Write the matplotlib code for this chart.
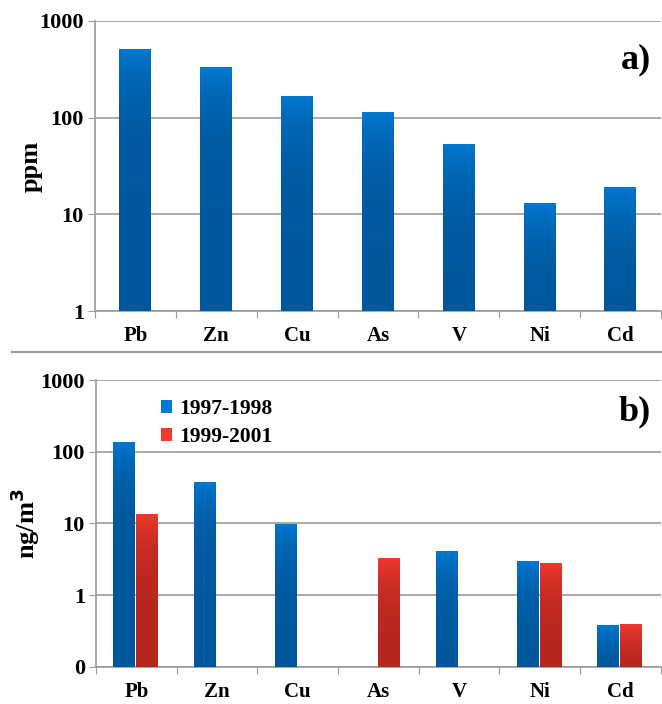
import numpy as np
import matplotlib.pyplot as plt
from matplotlib.patches import Patch
from matplotlib.lines import Line2D

elements = ["Pb", "Zn", "Cu", "As", "V", "Ni", "Cd"]
soil_ppm = [525, 336, 169, 115, 54, 13.3, 19.4]
air_9798 = [141, 39, 10, 0, 4.2, 3.08, 0.39]
air_9901 = [14, 0, 0, 3.34, 0, 2.9, 0.40]
y_ticks_a = [1, 10, 100, 1000]
y_ticks_b = [0.1, 1, 10, 100, 1000]
y_labels_b = ["0", "1", "10", "100", "1000"]

BLUE = ("#0079d2", "#00579c")
RED = ("#f23a2f", "#b5261f")
GRID = "#9a9a9a"

plt.rcParams["font.family"] = "Liberation Serif"
plt.rcParams["font.weight"] = "bold"


def gradient_bars(ax, bars, colors):
    grad = np.linspace(0, 1, 256).reshape(-1, 1)
    cmap = plt.matplotlib.colors.LinearSegmentedColormap.from_list("g", [colors[1], colors[0]])
    for b in bars:
        h = b.get_height()
        if h <= 0:
            b.set_visible(False)
            continue
        x0 = b.get_x()
        x1 = x0 + b.get_width()
        y0 = ax.get_ylim()[0]
        im = ax.imshow(grad, extent=(x0, x1, y0, h), origin="lower", aspect="auto",
                       cmap=cmap, zorder=3, interpolation="bilinear")
        im.set_clip_path(b)
        b.set_facecolor("none")
        b.set_edgecolor("none")


def style_axes(ax, ticks, labels):
    ax.set_yscale("log")
    ax.set_ylim(ticks[0], ticks[-1])
    ax.set_yticks(ticks)
    ax.set_yticklabels(labels)
    ax.minorticks_off()
    ax.yaxis.grid(True, color=GRID, linewidth=1.2)
    ax.set_axisbelow(True)
    ax.set_xlim(0, len(elements))
    ax.set_xticks(np.arange(len(elements) + 1))
    ax.set_xticklabels([])
    ax.set_xticks(np.arange(len(elements)) + 0.5, minor=True)
    ax.set_xticklabels(elements, minor=True)
    ax.tick_params(axis="x", which="major", length=5, color=GRID, direction="out")
    ax.tick_params(axis="x", which="minor", length=0, pad=11, labelsize=15)
    ax.tick_params(axis="y", length=5, color=GRID, labelsize=16, pad=3)
    for s in ["top", "right"]:
        ax.spines[s].set_visible(False)
    for s in ["left", "bottom"]:
        ax.spines[s].set_color(GRID)
        ax.spines[s].set_linewidth(1.2)


fig = plt.figure(figsize=(6.62, 7.04), dpi=100)
ax1 = fig.add_axes([0.1435, 0.5582, 0.855, 0.412])
ax2 = fig.add_axes([0.145, 0.0526, 0.853, 0.4076])

x = np.arange(len(elements)) + 0.5

style_axes(ax1, y_ticks_a, [str(t) for t in y_ticks_a])
bars = ax1.bar(x, soil_ppm, width=0.4, bottom=0)
gradient_bars(ax1, bars, BLUE)
ax1.set_ylabel("ppm", fontsize=19, fontweight="bold")
ax1.yaxis.set_label_coords(-0.092, 0.5)
ax1.text(0.982, 0.866, "a)", transform=ax1.transAxes, ha="right", va="center",
         fontsize=26, fontweight="bold")

style_axes(ax2, y_ticks_b, y_labels_b)
w = 0.285
b1 = ax2.bar(x - w / 2, air_9798, width=w)
b2 = ax2.bar(x + w / 2, air_9901, width=w)
gradient_bars(ax2, b1, BLUE)
gradient_bars(ax2, b2, RED)
ax2.set_ylabel("ng/m$^\\mathbf{3}$", fontsize=19, fontweight="bold")
ax2.yaxis.set_label_coords(-0.096, 0.5)
ax2.text(0.982, 0.888, "b)", transform=ax2.transAxes, ha="right", va="center",
         fontsize=26, fontweight="bold")
handles = [Patch(facecolor=BLUE[0]), Patch(facecolor=RED[0])]
ax2.legend(handles, ["1997-1998", "1999-2001"], loc="upper left",
           bbox_to_anchor=(0.08, 1.0), frameon=False, handlelength=0.55,
           handleheight=0.55, handletextpad=0.3, labelspacing=0.35,
           prop={"family": "Liberation Serif", "weight": "bold", "size": 15.5})

fig.add_artist(Line2D([12 / 662, 1.0], [1 - 352 / 704] * 2, color=GRID, linewidth=1.5))

fig.savefig("out.png", dpi=100)
